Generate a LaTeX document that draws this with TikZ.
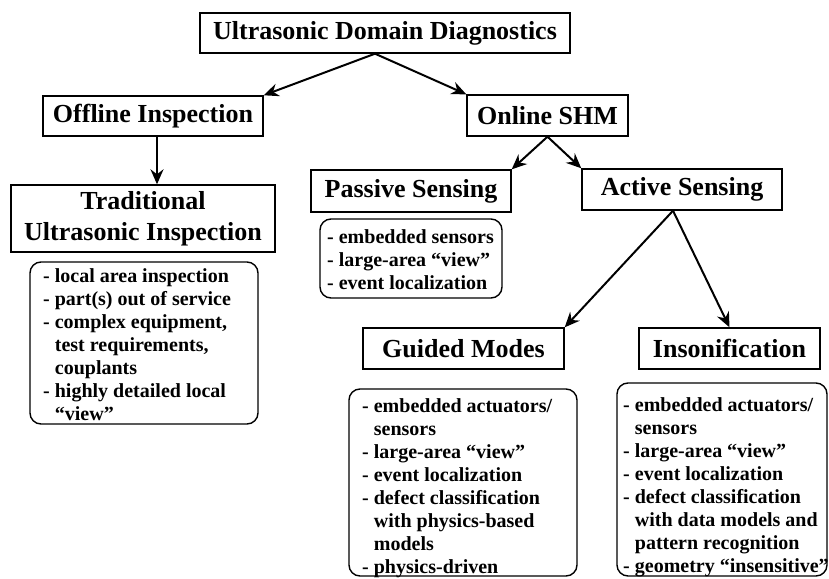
\documentclass[tikz,border=0pt]{standalone}
\usepackage{fontspec}
\setmainfont{Liberation Serif}
\usetikzlibrary{arrows.meta}
\newcommand{\listindent}{\hspace*{11.7pt}}
\begin{document}
\begin{tikzpicture}[x=1pt,y=-1pt,
  headbox/.style={draw, line width=1.4pt, inner sep=0pt, align=center,
    font=\bfseries\fontsize{26}{31}\selectfont},
  listbox/.style={draw, line width=1.4pt, rounded corners=11pt, inner sep=0pt},
  % lists are placed by the baseline of their last line
  listtext/.style={inner sep=0pt, align=left, anchor=base west,
    font=\bfseries\fontsize{20}{23}\selectfont},
  link/.style={line width=2pt, -{Stealth[length=15pt,width=13pt,inset=5pt]}}
]
\useasboundingbox (0,0) rectangle (829,578);

% headings
\node[headbox, minimum width=370, minimum height=40] (root) at (385,33) {Ultrasonic Domain Diagnostics};
\node[headbox, minimum width=220, minimum height=40] (offline) at (153,116) {Offline Inspection};
\node[headbox, minimum width=161, minimum height=41] (online) at (547.5,115.5) {Online SHM};
\node[headbox, minimum width=264, minimum height=67] (trad) at (143,218.5) {Traditional\\Ultrasonic Inspection};
\node[headbox, minimum width=200, minimum height=42] (passive) at (411,191) {Passive Sensing};
\node[headbox, minimum width=200, minimum height=41] (active) at (682,189.5) {Active Sensing};
\node[headbox, minimum width=201, minimum height=41] (guided) at (463.5,348.5) {Guided Modes};
\node[headbox, minimum width=181, minimum height=41] (insonif) at (729.5,348.5) {Insonification};

% rounded boxes with the feature lists
\node[listbox, minimum width=228, minimum height=162] (tradbox) at (144,343) {};
\node[listbox, minimum width=182, minimum height=79] (passbox) at (411,258.5) {};
\node[listbox, minimum width=228, minimum height=187] (guidbox) at (463,482.5) {};
\node[listbox, minimum width=210, minimum height=193] (insbox) at (722,479.5) {};

\node[listtext] (tradlist) at (43,420) {%
- local area inspection\\
- part(s) out of service\\
- complex equipment,\\
\listindent test requirements,\\
\listindent couplants\\
- highly detailed local\\
\listindent “view”};

\node[listtext] (passlist) at (327,289) {%
- embedded sensors\\
- large-area “view”\\
- event localization};

\node[listtext] (guidlist) at (362,573) {%
- embedded actuators/\\
\listindent sensors\\
- large-area “view”\\
- event localization\\
- defect classification\\
\listindent with physics-based\\
\listindent models\\
- physics-driven};

\node[listtext] (inslist) at (623,572) {%
- embedded actuators/\\
\listindent sensors\\
- large-area “view”\\
- event localization\\
- defect classification\\
\listindent with data models and\\
\listindent pattern recognition\\
- geometry “insensitive”};

% connectors
\coordinate (rs) at ([xshift=-10pt]root.south);
\draw[link] (rs) -- (offline.north east);
\draw[link] (rs) -- (online.north west);

\coordinate (os) at ([xshift=4pt]offline.south);
\draw[link] (os) -- (os |- trad.north);

\draw[link] (online.south) -- (passive.north east);
\draw[link] (online.south) -- (active.north west);

\coordinate (as) at ([xshift=-9pt]active.south);
\draw[link] (as) -- (guided.north east);
\draw[link] (as) -- (insonif.north);
\end{tikzpicture}
\end{document}
